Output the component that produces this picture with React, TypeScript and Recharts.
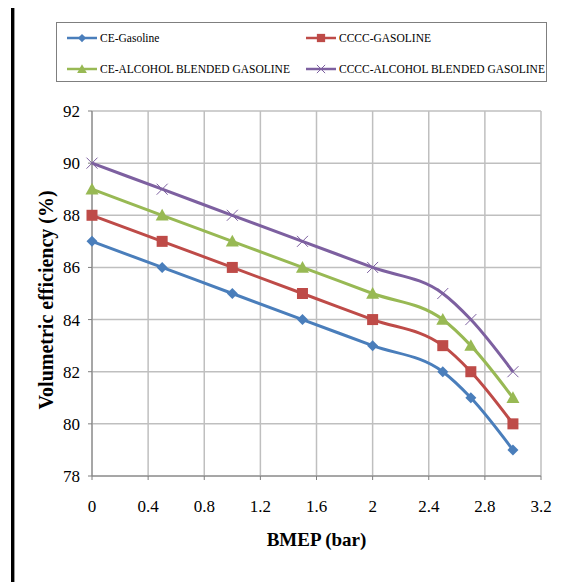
import React from 'react';
import { LineChart, Line, XAxis, YAxis, CartesianGrid } from 'recharts';

const bmep = [0, 0.5, 1, 1.5, 2, 2.5, 2.7, 3];
const ceGasoline = [87, 86, 85, 84, 83, 82, 81, 79];
const ccccGasoline = [88, 87, 86, 85, 84, 83, 82, 80];
const ceAlcohol = [89, 88, 87, 86, 85, 84, 83, 81];
const ccccAlcohol = [90, 89, 88, 87, 86, 85, 84, 82];

const xTicks = [0, 0.4, 0.8, 1.2, 1.6, 2, 2.4, 2.8, 3.2];
const yTicks = [78, 80, 82, 84, 86, 88, 90, 92];

const data = bmep.map((x, i) => ({
  x,
  ceG: ceGasoline[i],
  ccccG: ccccGasoline[i],
  ceA: ceAlcohol[i],
  ccccA: ccccAlcohol[i],
}));

const FONT = "'Liberation Serif', 'DejaVu Serif', serif";

type Shape = 'diamond' | 'square' | 'triangle' | 'cross';

const series: { key: string; name: string; color: string; shape: Shape }[] = [
  { key: 'ceG', name: 'CE-Gasoline', color: '#4A7EBB', shape: 'diamond' },
  { key: 'ccccG', name: 'CCCC-GASOLINE', color: '#BE4B48', shape: 'square' },
  { key: 'ceA', name: 'CE-ALCOHOL BLENDED GASOLINE', color: '#98B954', shape: 'triangle' },
  { key: 'ccccA', name: 'CCCC-ALCOHOL BLENDED GASOLINE', color: '#7D60A0', shape: 'cross' },
];

function marker(shape: Shape, color: string, cx: number, cy: number, s = 1, key?: string) {
  if (shape === 'diamond') {
    const r = 5.5 * s;
    return <path key={key} d={`M${cx},${cy - r}L${cx + r},${cy}L${cx},${cy + r}L${cx - r},${cy}Z`} fill={color} />;
  }
  if (shape === 'square') {
    const r = 5.5 * s;
    return <rect key={key} x={cx - r} y={cy - r} width={2 * r} height={2 * r} fill={color} />;
  }
  if (shape === 'triangle') {
    const r = 6.5 * s;
    return <path key={key} d={`M${cx},${cy - r}L${cx + r},${cy + r * 0.8}L${cx - r},${cy + r * 0.8}Z`} fill={color} />;
  }
  const r = 5.5 * s;
  return (
    <path
      key={key}
      d={`M${cx - r},${cy - r}L${cx + r},${cy + r}M${cx - r},${cy + r}L${cx + r},${cy - r}`}
      stroke={color}
      strokeWidth={1}
      fill="none"
    />
  );
}

const LegendBox = () => (
  <div
    style={{
      position: 'absolute',
      left: 56,
      top: 22,
      width: 491,
      height: 60,
      border: '1px solid #7f7f7f',
      boxSizing: 'border-box',
      fontFamily: FONT,
      fontSize: 11.5,
      color: '#000',
    }}
  >
    {series.map((s, i) => {
      const col = i % 2;
      const row = Math.floor(i / 2);
      return (
        <div
          key={s.key}
          style={{
            position: 'absolute',
            left: col === 0 ? 9 : 248,
            top: row === 0 ? 7 : 38,
            height: 16,
            display: 'flex',
            alignItems: 'center',
            whiteSpace: 'nowrap',
          }}
        >
          <svg width={32} height={16} style={{ marginRight: 2 }}>
            <line x1={1} y1={8} x2={31} y2={8} stroke={s.color} strokeWidth={2.5} />
            {marker(s.shape, s.color, 16, 8, 0.75)}
          </svg>
          <span>{s.name}</span>
        </div>
      );
    })}
  </div>
);

export default function App() {
  return (
    <div style={{ position: 'relative', left: -8, top: -8, width: 587, height: 582, background: '#fff', overflow: 'hidden', fontFamily: FONT }}>
      <div
        style={{
          position: 'absolute',
          left: 11,
          top: 5,
          width: 600,
          height: 600,
          borderLeft: '3px solid #000',
          borderTop: '3px solid #000',
        }}
      />
      <div style={{ position: 'absolute', left: 14, top: 8, width: 1, height: 600, background: '#999' }} />
      <LegendBox />
      <div style={{ position: 'absolute', left: 0, top: 0 }}>
        <LineChart
          width={587}
          height={582}
          data={data}
          margin={{ top: 111, right: 46, bottom: 40, left: 0 }}
          style={{ fontFamily: FONT }}
        >
          <CartesianGrid stroke="#bfbfbf" strokeWidth={1.5} />
          <XAxis
            dataKey="x"
            type="number"
            domain={[0, 3.2]}
            ticks={xTicks}
            interval={0}
            height={66}
            tickSize={4}
            tickMargin={20}
            stroke="#7f7f7f"
            tick={{ fill: '#000', fontSize: 17, fontFamily: FONT }}
            label={{
              value: 'BMEP (bar)',
              position: 'insideBottom',
              offset: -4,
              fill: '#000',
              fontSize: 19,
              fontWeight: 'bold',
              fontFamily: FONT,
            }}
          />
          <YAxis
            type="number"
            domain={[78, 92]}
            ticks={yTicks}
            interval={0}
            width={92}
            tickSize={4}
            tickMargin={8}
            stroke="#7f7f7f"
            tick={{ fill: '#000', fontSize: 17, fontFamily: FONT }}
            label={{
              value: 'Volumetric efficiency (%)',
              angle: -90,
              position: 'insideLeft',
              offset: 46,
              dy: 116,
              fill: '#000',
              fontSize: 20,
              fontWeight: 'bold',
              fontFamily: FONT,
            }}
          />
          {series.map((s) => (
            <Line
              key={s.key}
              dataKey={s.key}
              name={s.name}
              type="monotone"
              stroke={s.color}
              strokeWidth={3}
              isAnimationActive={false}
              dot={(p: any) => marker(s.shape, s.color, p.cx, p.cy, 1, `${s.key}-${p.index}`)}
              activeDot={false}
            />
          ))}
        </LineChart>
      </div>
    </div>
  );
}
